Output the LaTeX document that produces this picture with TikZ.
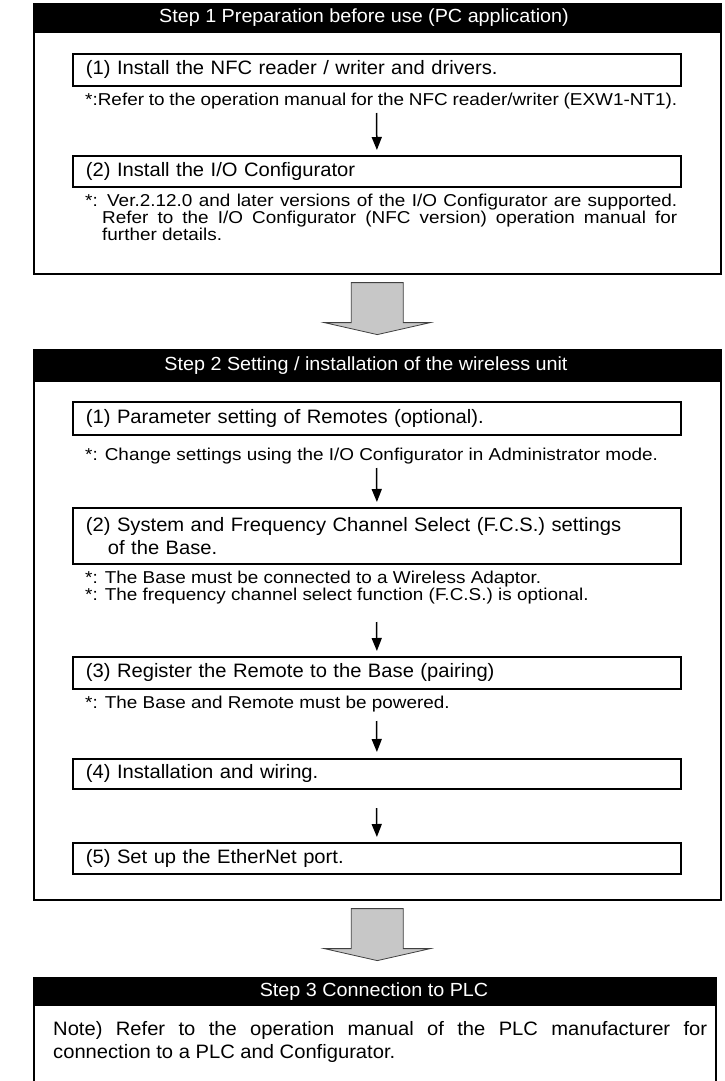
\documentclass[tikz,border=0pt]{standalone}
\usepackage{fontspec}
\setmainfont{Liberation Sans}[FakeStretch=1.04]
\newfontfamily\notefam{Liberation Sans}[FakeStretch=1.1]
\usetikzlibrary{arrows.meta,calc}
\newcommand{\mainsz}{\fontsize{19.4}{23}\selectfont}
\newcommand{\notesz}{\notefam\fontsize{17.2}{16}\selectfont}
\newcommand{\hdrsz}{\fontsize{19}{21}\selectfont}
\begin{document}
\begin{tikzpicture}[x=1pt,y=-1pt,
  frame/.style={draw, line width=1.6pt, anchor=north west, inner sep=0pt},
  hdr/.style={fill=black, anchor=north west, inner sep=0pt, minimum width=687pt, minimum height=30pt},
  hdrtext/.style={text=white, font=\hdrsz, inner sep=0pt},
  stepbox/.style={draw, line width=1.8pt, anchor=north west, minimum width=608pt, minimum height=32pt, text width=582pt, inner xsep=13pt, inner ysep=0pt, align=left, font=\mainsz},
  note/.style={anchor=base west, inner sep=0pt, text width=592pt, align=justify, font=\notesz},
  body/.style={anchor=base west, inner sep=0pt, text width=654pt, align=justify, font=\mainsz},
  flow/.style={-{Triangle[width=10pt,length=13pt]}, line width=1.5pt},
  bigarrow/.style={fill=black!22, draw=black!75, line width=0.8pt, line join=miter}
]
\path[use as bounding box] (0,0) rectangle (725,1081);

% ---------- Step 1 ----------
\node[frame, minimum width=687pt, minimum height=270pt] (st1) at (33,3) {};
\node[hdr] (h1) at (33,3) {};
\node[hdrtext] (h1t) at (364,18) {Step 1 Preparation before use (PC application)};
\node[stepbox] (s1a) at (72,53) {(1) Install the NFC reader / writer and drivers.};
\node[note] (n1a) at (85,105) {*:Refer to the operation manual for the NFC reader/writer (EXW1-NT1).};
\node[stepbox, minimum height=31pt] (s1b) at (72,155) {(2) Install the I/O Configurator};
\node[note] (n1b) at (85,206) {*: Ver.2.12.0 and later versions of the I/O Configurator are supported.\linebreak\hspace*{17pt}Refer to the I/O Configurator (NFC version) operation manual for\linebreak\hspace*{17pt}further details.};
\coordinate (a1) at (376.5,113);
\draw[flow] (a1) -- ([yshift=5pt]s1b.north);

\draw[bigarrow] ($(st1.south)+(-26,8)$) -- ++(52,0) -- ++(0,40) -- ++(27,0) -- ($(st1.south)+(0,60)$) -- ++(-53,-12) -- ++(27,0) -- cycle;

% ---------- Step 2 ----------
\node[frame, minimum width=687pt, minimum height=550pt] (st2) at (33,349) {};
\node[hdr, minimum height=33pt] (h2) at (33,349) {};
\node[hdrtext] (h2t) at (366,365.5) {Step 2 Setting / installation of the wireless unit};
\node[stepbox, minimum height=33pt] (s2a) at (72,401) {(1) Parameter setting of Remotes (optional).};
\node[note] (n2a) at (85,460) {*: Change settings using the I/O Configurator in Administrator mode.};
\node[stepbox, minimum height=56pt] (s2b) at (72,507) {(2) System and Frequency Channel Select (F.C.S.) settings\\\hspace*{22pt}of the Base.};
\node[note] (n2b) at (85,583) {*: The Base must be connected to a Wireless Adaptor.\newline *: The frequency channel select function (F.C.S.) is optional.};
\node[stepbox] (s2c) at (72,656) {(3) Register the Remote to the Base (pairing)};
\node[note] (n2c) at (85,708) {*: The Base and Remote must be powered.};
\node[stepbox, minimum height=30pt] (s2d) at (72,758) {(4) Installation and wiring.};
\node[stepbox, minimum height=31pt] (s2e) at (72,842) {(5) Set up the EtherNet port.};
\coordinate (a2) at (376.5,468);
\coordinate (a3) at (376.5,622);
\coordinate (a4) at (376.5,721);
\coordinate (a5) at (376.5,808);
\draw[flow] (a2) -- ([yshift=5pt]s2b.north);
\draw[flow] (a3) -- ([yshift=5pt]s2c.north);
\draw[flow] (a4) -- ([yshift=6pt]s2d.north);
\draw[flow] (a5) -- ([yshift=5pt]s2e.north);

\draw[bigarrow] ($(st2.south)+(-26,8)$) -- ++(52,0) -- ++(0,40) -- ++(27,0) -- ($(st2.south)+(0,60)$) -- ++(-53,-12) -- ++(27,0) -- cycle;

% ---------- Step 3 ----------
\node[frame, minimum width=682pt, minimum height=140pt] (st3) at (33,977) {};
\node[hdr, minimum width=682pt, minimum height=29pt] (h3) at (33,977) {};
\node[hdrtext] (h3t) at (374,991.5) {Step 3 Connection to PLC};
\node[body] (t3) at (53,1035) {Note) Refer to the operation manual of the PLC manufacturer for\linebreak connection to a PLC and Configurator.};
\end{tikzpicture}
\end{document}
